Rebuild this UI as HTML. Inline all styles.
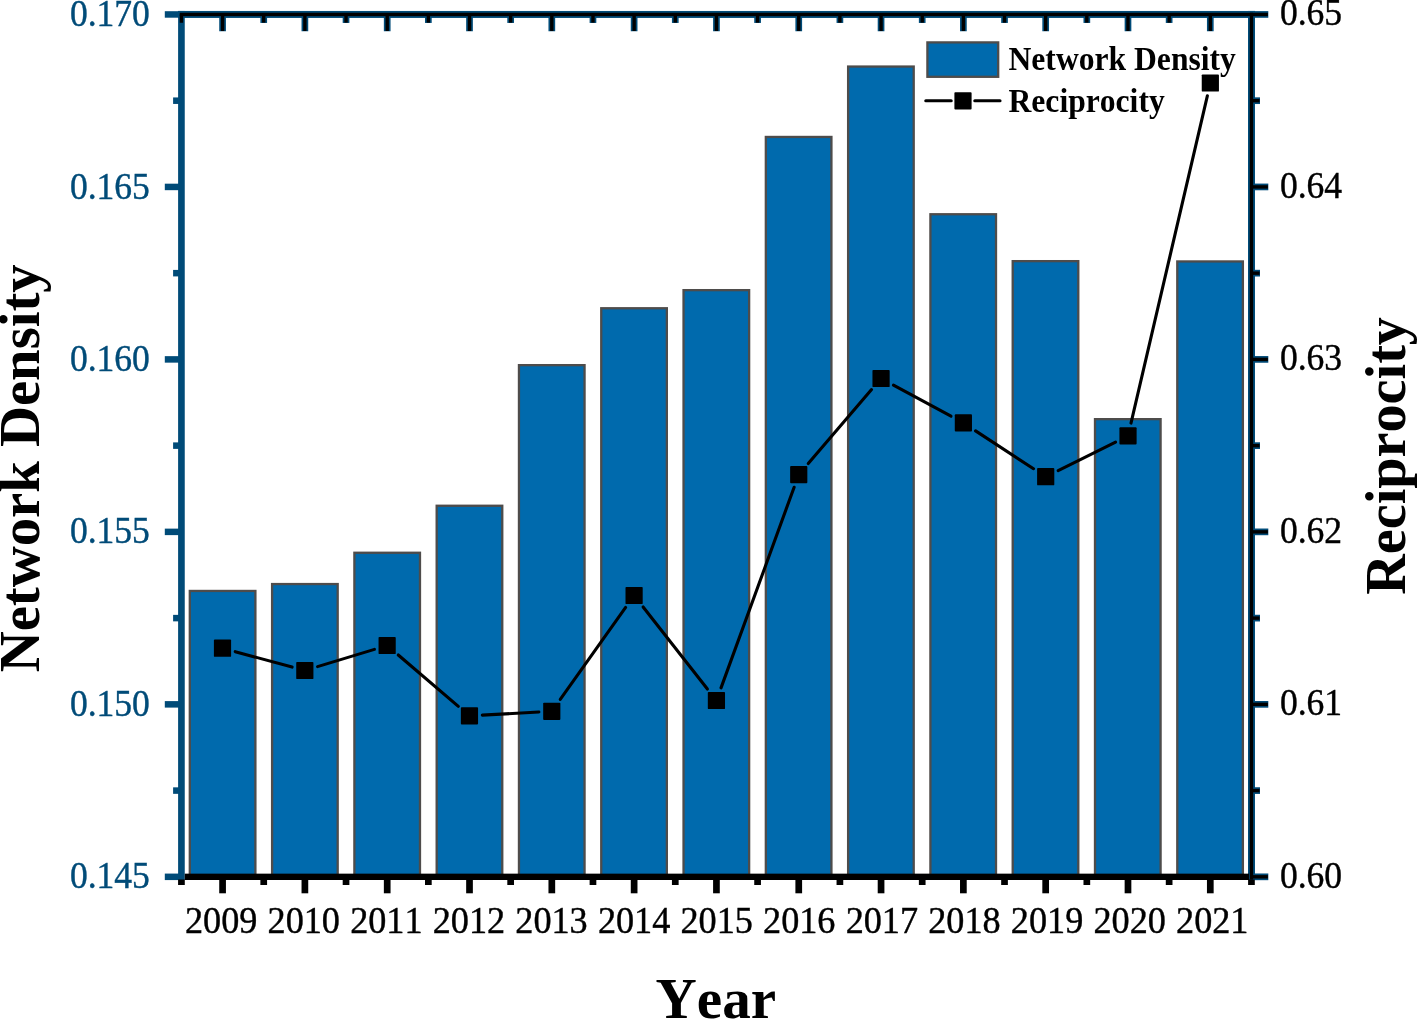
<!DOCTYPE html>
<html lang="en"><head><meta charset="utf-8"><title>Network Density and Reciprocity by Year</title>
<style>
html,body{margin:0;padding:0;background:#fff;}
body{width:1418px;height:1019px;overflow:hidden;}
svg{display:block;}
text{font-family:"Liberation Serif","Times New Roman",serif;font-kerning:none;}
.tk{font-size:36.5px;stroke-width:0.4px;}
.lab{font-size:58px;font-weight:bold;}
.leg{font-size:31px;font-weight:bold;}
</style></head><body>
<svg width="1418" height="1019" viewBox="0 0 1418 1019">
<rect width="1418" height="1019" fill="#fff"/>
<g fill="#006AAD" stroke="#4E4C4B" stroke-width="2.3">
<rect x="189.80" y="590.95" width="65.60" height="285.85"/>
<rect x="272.09" y="584.05" width="65.60" height="292.75"/>
<rect x="354.38" y="552.75" width="65.60" height="324.05"/>
<rect x="436.67" y="505.75" width="65.60" height="371.05"/>
<rect x="518.96" y="365.15" width="65.60" height="511.65"/>
<rect x="601.25" y="308.25" width="65.60" height="568.55"/>
<rect x="683.54" y="290.15" width="65.60" height="586.65"/>
<rect x="765.83" y="136.95" width="65.60" height="739.85"/>
<rect x="848.12" y="66.55" width="65.60" height="810.25"/>
<rect x="930.41" y="214.25" width="65.60" height="662.55"/>
<rect x="1012.70" y="261.15" width="65.60" height="615.65"/>
<rect x="1094.99" y="419.15" width="65.60" height="457.65"/>
<rect x="1177.28" y="261.45" width="65.60" height="615.35"/>
</g>
<g stroke="#000" stroke-width="3.1" stroke-linecap="round">
<line x1="235.25" y1="651.65" x2="292.07" y2="667.05"/>
<line x1="317.53" y1="666.64" x2="374.43" y2="649.36"/>
<line x1="398.26" y1="654.99" x2="458.34" y2="706.31"/>
<line x1="482.35" y1="715.10" x2="538.89" y2="712.00"/>
<line x1="560.25" y1="699.38" x2="625.63" y2="607.42"/>
<line x1="643.12" y1="607.01" x2="707.40" y2="688.99"/>
<line x1="721.03" y1="687.86" x2="794.13" y2="487.24"/>
<line x1="808.25" y1="463.50" x2="871.55" y2="389.60"/>
<line x1="893.44" y1="385.18" x2="951.00" y2="416.22"/>
<line x1="975.58" y1="430.87" x2="1033.50" y2="468.73"/>
<line x1="1058.15" y1="470.53" x2="1115.57" y2="442.07"/>
<line x1="1131.00" y1="423.11" x2="1207.36" y2="95.79"/>
</g>
<g fill="#000">
<rect x="213.90" y="639.60" width="17.20" height="17.20" rx="0.9"/>
<rect x="296.22" y="661.90" width="17.20" height="17.20" rx="0.9"/>
<rect x="378.54" y="636.90" width="17.20" height="17.20" rx="0.9"/>
<rect x="460.86" y="707.20" width="17.20" height="17.20" rx="0.9"/>
<rect x="543.18" y="702.70" width="17.20" height="17.20" rx="0.9"/>
<rect x="625.50" y="586.90" width="17.20" height="17.20" rx="0.9"/>
<rect x="707.82" y="691.90" width="17.20" height="17.20" rx="0.9"/>
<rect x="790.14" y="466.00" width="17.20" height="17.20" rx="0.9"/>
<rect x="872.46" y="369.90" width="17.20" height="17.20" rx="0.9"/>
<rect x="954.78" y="414.30" width="17.20" height="17.20" rx="0.9"/>
<rect x="1037.10" y="468.10" width="17.20" height="17.20" rx="0.9"/>
<rect x="1119.42" y="427.30" width="17.20" height="17.20" rx="0.9"/>
<rect x="1201.74" y="74.40" width="17.20" height="17.20" rx="0.9"/>
</g>
<g fill="#004B78">
<rect x="178.10" y="10.95" width="6.65" height="869.05"/>
<rect x="178.10" y="10.95" width="1076.90" height="7.00"/>
<rect x="1248.00" y="10.95" width="7.00" height="869.05"/>
<rect x="164.80" y="873.58" width="14.30" height="6.50"/>
<rect x="1254.00" y="873.48" width="14.30" height="6.70"/>
<rect x="173.10" y="787.34" width="6.00" height="6.50"/>
<rect x="1254.00" y="787.24" width="6.00" height="6.70"/>
<rect x="164.80" y="701.10" width="14.30" height="6.50"/>
<rect x="1254.00" y="701.00" width="14.30" height="6.70"/>
<rect x="173.10" y="614.86" width="6.00" height="6.50"/>
<rect x="1254.00" y="614.76" width="6.00" height="6.70"/>
<rect x="164.80" y="528.62" width="14.30" height="6.50"/>
<rect x="1254.00" y="528.52" width="14.30" height="6.70"/>
<rect x="173.10" y="442.39" width="6.00" height="6.50"/>
<rect x="1254.00" y="442.29" width="6.00" height="6.70"/>
<rect x="164.80" y="356.15" width="14.30" height="6.50"/>
<rect x="1254.00" y="356.05" width="14.30" height="6.70"/>
<rect x="173.10" y="269.91" width="6.00" height="6.50"/>
<rect x="1254.00" y="269.81" width="6.00" height="6.70"/>
<rect x="164.80" y="183.68" width="14.30" height="6.50"/>
<rect x="1254.00" y="183.58" width="14.30" height="6.70"/>
<rect x="173.10" y="97.44" width="6.00" height="6.50"/>
<rect x="1254.00" y="97.34" width="6.00" height="6.70"/>
<rect x="164.80" y="11.20" width="14.30" height="6.50"/>
<rect x="1254.00" y="11.10" width="14.30" height="6.70"/>
<rect x="219.23" y="16.95" width="6.70" height="14.30"/>
<rect x="260.38" y="16.95" width="6.70" height="6.00"/>
<rect x="301.54" y="16.95" width="6.70" height="14.30"/>
<rect x="342.69" y="16.95" width="6.70" height="6.00"/>
<rect x="383.85" y="16.95" width="6.70" height="14.30"/>
<rect x="425.00" y="16.95" width="6.70" height="6.00"/>
<rect x="466.16" y="16.95" width="6.70" height="14.30"/>
<rect x="507.31" y="16.95" width="6.70" height="6.00"/>
<rect x="548.47" y="16.95" width="6.70" height="14.30"/>
<rect x="589.62" y="16.95" width="6.70" height="6.00"/>
<rect x="630.78" y="16.95" width="6.70" height="14.30"/>
<rect x="671.93" y="16.95" width="6.70" height="6.00"/>
<rect x="713.09" y="16.95" width="6.70" height="14.30"/>
<rect x="754.24" y="16.95" width="6.70" height="6.00"/>
<rect x="795.40" y="16.95" width="6.70" height="14.30"/>
<rect x="836.55" y="16.95" width="6.70" height="6.00"/>
<rect x="877.71" y="16.95" width="6.70" height="14.30"/>
<rect x="918.86" y="16.95" width="6.70" height="6.00"/>
<rect x="960.02" y="16.95" width="6.70" height="14.30"/>
<rect x="1001.17" y="16.95" width="6.70" height="6.00"/>
<rect x="1042.33" y="16.95" width="6.70" height="14.30"/>
<rect x="1083.48" y="16.95" width="6.70" height="6.00"/>
<rect x="1124.64" y="16.95" width="6.70" height="14.30"/>
<rect x="1165.79" y="16.95" width="6.70" height="6.00"/>
<rect x="1206.95" y="16.95" width="6.70" height="14.30"/>
</g>
<g fill="#000">
<rect x="184.75" y="873.65" width="1064.25" height="6.35"/>
<rect x="178.08" y="879.50" width="6.70" height="5.50"/>
<rect x="219.23" y="879.50" width="6.70" height="13.80"/>
<rect x="260.38" y="879.50" width="6.70" height="5.50"/>
<rect x="301.54" y="879.50" width="6.70" height="13.80"/>
<rect x="342.69" y="879.50" width="6.70" height="5.50"/>
<rect x="383.85" y="879.50" width="6.70" height="13.80"/>
<rect x="425.00" y="879.50" width="6.70" height="5.50"/>
<rect x="466.16" y="879.50" width="6.70" height="13.80"/>
<rect x="507.31" y="879.50" width="6.70" height="5.50"/>
<rect x="548.47" y="879.50" width="6.70" height="13.80"/>
<rect x="589.62" y="879.50" width="6.70" height="5.50"/>
<rect x="630.78" y="879.50" width="6.70" height="13.80"/>
<rect x="671.93" y="879.50" width="6.70" height="5.50"/>
<rect x="713.09" y="879.50" width="6.70" height="13.80"/>
<rect x="754.24" y="879.50" width="6.70" height="5.50"/>
<rect x="795.40" y="879.50" width="6.70" height="13.80"/>
<rect x="836.55" y="879.50" width="6.70" height="5.50"/>
<rect x="877.71" y="879.50" width="6.70" height="13.80"/>
<rect x="918.86" y="879.50" width="6.70" height="5.50"/>
<rect x="960.02" y="879.50" width="6.70" height="13.80"/>
<rect x="1001.17" y="879.50" width="6.70" height="5.50"/>
<rect x="1042.33" y="879.50" width="6.70" height="13.80"/>
<rect x="1083.48" y="879.50" width="6.70" height="5.50"/>
<rect x="1124.64" y="879.50" width="6.70" height="13.80"/>
<rect x="1165.79" y="879.50" width="6.70" height="5.50"/>
<rect x="1206.95" y="879.50" width="6.70" height="13.80"/>
<rect x="1248.10" y="879.50" width="6.70" height="5.50"/>
<rect x="179.73" y="12.75" width="1088.17" height="3.40"/>
<rect x="1249.75" y="12.75" width="3.40" height="866.95"/>
<rect x="179.73" y="14.45" width="3.40" height="8.30"/>
<rect x="220.88" y="14.45" width="3.40" height="16.50"/>
<rect x="262.03" y="14.45" width="3.40" height="8.20"/>
<rect x="303.19" y="14.45" width="3.40" height="16.50"/>
<rect x="344.34" y="14.45" width="3.40" height="8.20"/>
<rect x="385.50" y="14.45" width="3.40" height="16.50"/>
<rect x="426.65" y="14.45" width="3.40" height="8.20"/>
<rect x="467.81" y="14.45" width="3.40" height="16.50"/>
<rect x="508.96" y="14.45" width="3.40" height="8.20"/>
<rect x="550.12" y="14.45" width="3.40" height="16.50"/>
<rect x="591.27" y="14.45" width="3.40" height="8.20"/>
<rect x="632.43" y="14.45" width="3.40" height="16.50"/>
<rect x="673.58" y="14.45" width="3.40" height="8.20"/>
<rect x="714.74" y="14.45" width="3.40" height="16.50"/>
<rect x="755.89" y="14.45" width="3.40" height="8.20"/>
<rect x="797.05" y="14.45" width="3.40" height="16.50"/>
<rect x="838.20" y="14.45" width="3.40" height="8.20"/>
<rect x="879.36" y="14.45" width="3.40" height="16.50"/>
<rect x="920.51" y="14.45" width="3.40" height="8.20"/>
<rect x="961.67" y="14.45" width="3.40" height="16.50"/>
<rect x="1002.82" y="14.45" width="3.40" height="8.20"/>
<rect x="1043.98" y="14.45" width="3.40" height="16.50"/>
<rect x="1085.13" y="14.45" width="3.40" height="8.20"/>
<rect x="1126.29" y="14.45" width="3.40" height="16.50"/>
<rect x="1167.44" y="14.45" width="3.40" height="8.20"/>
<rect x="1208.60" y="14.45" width="3.40" height="16.50"/>
<rect x="1251.45" y="875.12" width="16.45" height="3.40"/>
<rect x="1251.45" y="788.89" width="8.15" height="3.40"/>
<rect x="1251.45" y="702.65" width="16.45" height="3.40"/>
<rect x="1251.45" y="616.41" width="8.15" height="3.40"/>
<rect x="1251.45" y="530.17" width="16.45" height="3.40"/>
<rect x="1251.45" y="443.94" width="8.15" height="3.40"/>
<rect x="1251.45" y="357.70" width="16.45" height="3.40"/>
<rect x="1251.45" y="271.46" width="8.15" height="3.40"/>
<rect x="1251.45" y="185.23" width="16.45" height="3.40"/>
<rect x="1251.45" y="98.99" width="8.15" height="3.40"/>
</g>
<text class="tk" transform="translate(149.90 888.43) scale(0.9740 1.0500)" text-anchor="end" fill="#004B78" stroke="#004B78">0.145</text>
<text class="tk" transform="translate(149.90 715.95) scale(0.9740 1.0500)" text-anchor="end" fill="#004B78" stroke="#004B78">0.150</text>
<text class="tk" transform="translate(149.90 543.48) scale(0.9740 1.0500)" text-anchor="end" fill="#004B78" stroke="#004B78">0.155</text>
<text class="tk" transform="translate(149.90 371.00) scale(0.9740 1.0500)" text-anchor="end" fill="#004B78" stroke="#004B78">0.160</text>
<text class="tk" transform="translate(149.90 198.53) scale(0.9740 1.0500)" text-anchor="end" fill="#004B78" stroke="#004B78">0.165</text>
<text class="tk" transform="translate(149.90 26.05) scale(0.9740 1.0500)" text-anchor="end" fill="#004B78" stroke="#004B78">0.170</text>
<text class="tk" transform="translate(1279.90 887.83) scale(0.9740 1.0500)" text-anchor="start" fill="#000" stroke="#000">0.60</text>
<text class="tk" transform="translate(1279.90 715.35) scale(0.9740 1.0500)" text-anchor="start" fill="#000" stroke="#000">0.61</text>
<text class="tk" transform="translate(1279.90 542.88) scale(0.9740 1.0500)" text-anchor="start" fill="#000" stroke="#000">0.62</text>
<text class="tk" transform="translate(1279.90 370.40) scale(0.9740 1.0500)" text-anchor="start" fill="#000" stroke="#000">0.63</text>
<text class="tk" transform="translate(1279.90 197.93) scale(0.9740 1.0500)" text-anchor="start" fill="#000" stroke="#000">0.64</text>
<text class="tk" transform="translate(1279.90 25.45) scale(0.9740 1.0500)" text-anchor="start" fill="#000" stroke="#000">0.65</text>
<text class="tk" transform="translate(184.95 932.90) scale(0.9920 1.0400)" text-anchor="start" fill="#000" stroke="#000">2009</text>
<text class="tk" transform="translate(267.54 932.90) scale(0.9920 1.0400)" text-anchor="start" fill="#000" stroke="#000">2010</text>
<text class="tk" transform="translate(350.13 932.90) scale(0.9920 1.0400)" text-anchor="start" fill="#000" stroke="#000">2011</text>
<text class="tk" transform="translate(432.72 932.90) scale(0.9920 1.0400)" text-anchor="start" fill="#000" stroke="#000">2012</text>
<text class="tk" transform="translate(515.31 932.90) scale(0.9920 1.0400)" text-anchor="start" fill="#000" stroke="#000">2013</text>
<text class="tk" transform="translate(597.90 932.90) scale(0.9920 1.0400)" text-anchor="start" fill="#000" stroke="#000">2014</text>
<text class="tk" transform="translate(680.49 932.90) scale(0.9920 1.0400)" text-anchor="start" fill="#000" stroke="#000">2015</text>
<text class="tk" transform="translate(763.08 932.90) scale(0.9920 1.0400)" text-anchor="start" fill="#000" stroke="#000">2016</text>
<text class="tk" transform="translate(845.67 932.90) scale(0.9920 1.0400)" text-anchor="start" fill="#000" stroke="#000">2017</text>
<text class="tk" transform="translate(928.26 932.90) scale(0.9920 1.0400)" text-anchor="start" fill="#000" stroke="#000">2018</text>
<text class="tk" transform="translate(1010.85 932.90) scale(0.9920 1.0400)" text-anchor="start" fill="#000" stroke="#000">2019</text>
<text class="tk" transform="translate(1093.44 932.90) scale(0.9920 1.0400)" text-anchor="start" fill="#000" stroke="#000">2020</text>
<text class="tk" transform="translate(1176.03 932.90) scale(0.9920 1.0400)" text-anchor="start" fill="#000" stroke="#000">2021</text>
<text class="lab" transform="translate(715.80 1017.60) scale(0.9850 1.0000)" text-anchor="middle">Year</text>
<text class="lab" transform="translate(39.40 468.30) rotate(-90) scale(0.9780 1.0000)" text-anchor="middle">Network Density</text>
<text class="lab" transform="translate(1405.40 455.90) rotate(-90) scale(0.9690 1.0000)" text-anchor="middle">Reciprocity</text>
<rect x="927.4" y="42.4" width="70.8" height="34.4" fill="#006AAD" stroke="#4E4C4B" stroke-width="2.3"/>
<g stroke="#000" stroke-width="3.1" stroke-linecap="round">
<line x1="925.8" y1="100.7" x2="951.2" y2="100.7"/>
<line x1="974.8" y1="100.7" x2="1000.0" y2="100.7"/>
</g>
<rect x="954.40" y="92.20" width="17.20" height="17.20" rx="0.9" fill="#000"/>
<text class="leg" transform="translate(1008.50 70.10) scale(1.0200 1.0600)" text-anchor="start">Network Density</text>
<text class="leg" transform="translate(1008.50 111.90) scale(1.0200 1.0600)" text-anchor="start">Reciprocity</text>
</svg>
</body></html>
